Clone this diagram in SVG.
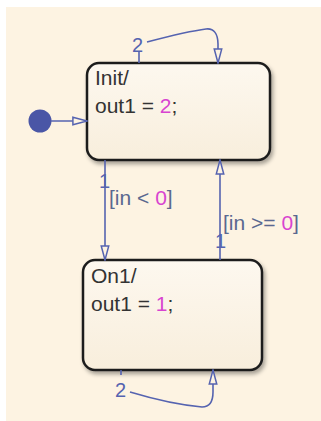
<svg xmlns="http://www.w3.org/2000/svg" width="321" height="421" viewBox="0 0 321 421">
<defs>
<linearGradient id="sg" x1="0" y1="0" x2="0" y2="1">
<stop offset="0" stop-color="#fdf8ef"/>
<stop offset="1" stop-color="#f8eedc"/>
</linearGradient>
<filter id="sh" x="-10%" y="-10%" width="130%" height="130%">
<feGaussianBlur in="SourceAlpha" stdDeviation="2"/>
<feOffset dx="2" dy="3"/>
<feComponentTransfer><feFuncA type="linear" slope="0.35"/></feComponentTransfer>
<feMerge><feMergeNode/><feMergeNode in="SourceGraphic"/></feMerge>
</filter>
<marker id="ah" markerWidth="16" markerHeight="9.4" refX="16" refY="5" orient="auto" markerUnits="userSpaceOnUse" viewBox="0 0 17 10">
<path d="M1,1 L16,5 L1,9 Z" fill="#fdf3e2" stroke="#5563b0" stroke-width="1.6"/>
</marker>
</defs>
<style>
.st{fill:url(#sg);stroke:#1e1e1e;stroke-width:2.5}
.tx{font-family:"Liberation Sans",Arial,sans-serif;font-size:21px;fill:#333}
.lb{font-family:"Liberation Sans",Arial,sans-serif;font-size:21px;fill:#5a6890}
.num{fill:#d844d0}
.tr{fill:none;stroke:#5563b0;stroke-width:1.6}
.ln{font-family:"Liberation Sans",Arial,sans-serif;font-size:20px;fill:#5563b0}
</style>
<rect x="0" y="0" width="321" height="421" fill="#ffffff"/>
<rect x="6" y="7" width="315" height="414" fill="#fdf3e2"/>
<g id="Init">
<rect class="st" x="87" y="63" width="183" height="97" rx="12" filter="url(#sh)"/>
<text class="tx" x="95" y="85">Init/</text>
<text class="tx" x="95" y="113">out1 = <tspan class="num">2</tspan>;</text>
</g>
<g id="On1">
<rect class="st" x="83" y="260" width="179" height="110" rx="12" filter="url(#sh)"/>
<text class="tx" x="91" y="283">On1/</text>
<text class="tx" x="91" y="311">out1 = <tspan class="num">1</tspan>;</text>
</g>
<g id="default">
<circle cx="40" cy="121" r="11.5" fill="#4a56a6"/>
</g>
<g id="connectors">
<path class="tr" d="M51,121 L87,121" marker-end="url(#ah)"/>
<path class="tr" d="M105,160 L105,260" marker-end="url(#ah)"/>
<path class="tr" d="M220,260 L220,160" marker-end="url(#ah)"/>
<path class="tr" d="M139,63 L139,52 M147,42 C170,36 190,31 206,29 C214,28 218,34 218,44 L218,63" marker-end="url(#ah)"/>
<path class="tr" d="M121,370 L121,375 M130,392 C150,398 180,405 202,407 C210,407 213,402 213,392 L213,370" marker-end="url(#ah)"/>
</g>
<g id="labels">
<text class="ln" x="132" y="52">2</text>
<text class="ln" x="115" y="397">2</text>
<text class="ln" x="99" y="188">1</text>
<text class="lb" x="109" y="205">[in &lt; <tspan class="num">0</tspan>]</text>
<text class="ln" x="215" y="248">1</text>
<text class="lb" x="223" y="230">[in &gt;= <tspan class="num">0</tspan>]</text>
</g>
</svg>
